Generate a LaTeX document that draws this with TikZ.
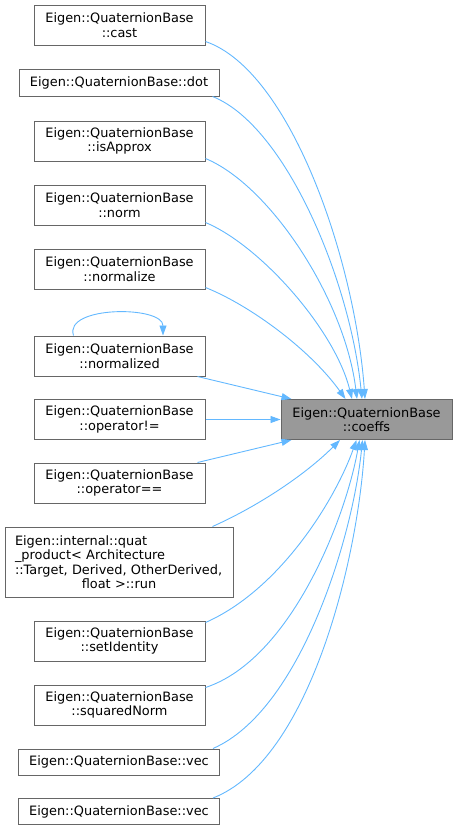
\documentclass[tikz,border=0pt]{standalone}
\usepackage{fontspec}
\setmainfont{DejaVu Sans}
\usepackage{xcolor}
\usepackage{tikz}
\usetikzlibrary{arrows.meta}
\definecolor{edgeblue}{HTML}{63B8FF}
\definecolor{boxgray}{HTML}{666666}
\definecolor{fillgray}{HTML}{999999}
\tikzstyle{fn}=[rectangle, draw=boxgray, fill=white, line width=1pt,% a plain caller box
inner sep=0pt, minimum width=171pt, minimum height=40pt, align=center,
font=\fontsize{12.9}{14.5}\selectfont]
\tikzstyle{fnwide}=[fn, minimum width=201pt, minimum height=27pt]
\tikzstyle{fncur}=[fn, fill=fillgray]
\tikzstyle{call}=[-{Triangle[length=10pt,width=7pt]}, draw=edgeblue, line width=0.9pt]

\begin{document}
\begin{tikzpicture}[x=1pt,y=-1pt]
\useasboundingbox (0,0) rectangle (457,830);

\node[fn] (cast) at (119.5,25) {Eigen::QuaternionBase\\::cast};
\node[fnwide, minimum width=200pt] (dot) at (119,82.5) {Eigen::QuaternionBase::dot};
\node[fn] (isapprox) at (119.5,141) {Eigen::QuaternionBase\\::isApprox};
\node[fn] (norm) at (119.5,205) {Eigen::QuaternionBase\\::norm};
\node[fn] (normalize) at (119.5,269) {Eigen::QuaternionBase\\::normalize};
\node[fn] (normalized) at (119.5,356) {Eigen::QuaternionBase\\::normalized};
\node[fn] (opneq) at (119.5,419.5) {Eigen::QuaternionBase\\::operator!=};
\node[fn] (opeq) at (119.5,483) {Eigen::QuaternionBase\\::operator==};
\node[fn, minimum width=228pt, minimum height=70pt, text width=208pt, align=left] (quat) at (119,562)
  {Eigen::internal::quat\\\_product< Architecture\\\mbox{::Target, Derived, OtherDerived,}\\\makebox[\linewidth][c]{float >::run}};
\node[fn] (setid) at (119.5,641) {Eigen::QuaternionBase\\::setIdentity};
\node[fn] (sqnorm) at (119.5,705) {Eigen::QuaternionBase\\::squaredNorm};
\node[fnwide, minimum height=26pt] (veca) at (119,762) {Eigen::QuaternionBase::vec};
\node[fnwide, minimum height=26pt] (vecb) at (119,811.5) {Eigen::QuaternionBase::vec};

\node[fncur] (coeffs) at (366.5,419.5) {Eigen::QuaternionBase\\::coeffs};

% callers above
\draw[call] ([yshift=4pt]cast.south east) .. controls +(85,29) and +(-10,-139) .. ([xshift=-1.5pt]coeffs.north);
\draw[call] ([xshift=-7pt]dot.south east) .. controls +(73,29) and +(-12,-119) .. ([xshift=-4.5pt]coeffs.north);
\draw[call] ([yshift=3pt]isapprox.south east) .. controls +(65,27) and +(-12,-99) .. ([xshift=-9.5pt]coeffs.north);
\draw[call] ([yshift=3pt]norm.south east) .. controls +(55,23) and +(-17,-69) .. ([xshift=-14.5pt]coeffs.north);
\draw[call] ([yshift=2pt]normalize.south east) .. controls +(45,18) and +(-35,-49) .. ([xshift=-21pt]coeffs.north);
\draw[call] ([xshift=-46pt]normalized.north) .. controls +(-10,-30) and +(0,-30) .. ([xshift=43.5pt]normalized.north);
\draw[call] ([xshift=-8pt]normalized.south east) -- ([xshift=11pt]coeffs.north west);
\draw[call] (opneq.east) -- (coeffs.west);

% callers below
\draw[call] ([xshift=-8pt]opeq.north east) -- ([xshift=11pt]coeffs.south west);
\draw[call] ([xshift=-21pt]quat.north east) .. controls +(45,-20) and +(-35,35) .. ([xshift=-26.5pt]coeffs.south);
\draw[call] ([yshift=-2pt]setid.north east) .. controls +(75,-33) and +(-21,59) .. ([xshift=-10pt]coeffs.south);
\draw[call] ([yshift=-3pt]sqnorm.north east) .. controls +(85,-28) and +(-14,79) .. ([xshift=-7pt]coeffs.south);
\draw[call] ([xshift=-7pt]veca.north east) .. controls +(87,-38) and +(-10,99) .. ([xshift=-4pt]coeffs.south);
\draw[call] ([xshift=-7pt]vecb.north east) .. controls +(97,-38) and +(-7,119) .. ([xshift=-1.5pt]coeffs.south);

\end{tikzpicture}
\end{document}
